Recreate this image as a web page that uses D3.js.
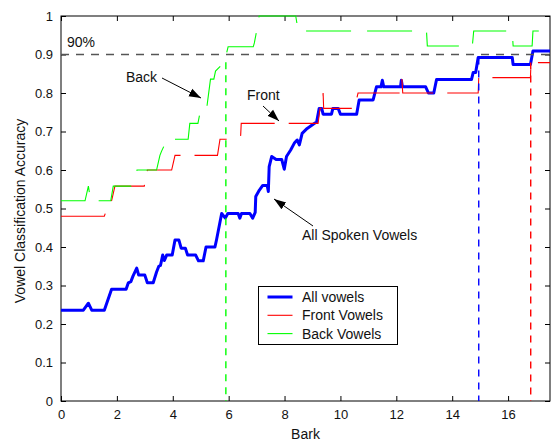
<!DOCTYPE html>
<html>
<head>
<meta charset="utf-8">
<script src="https://cdn.jsdelivr.net/npm/d3@7"></script>
<style>
  body { margin: 0; background: #fff; }
  svg text { font-family: Arial, "Liberation Sans", sans-serif; fill: #111; }
</style>
</head>
<body>
<div id="chart"></div>
<script>
// ---------- data ----------
const xTicks = [0, 2, 4, 6, 8, 10, 12, 14, 16];
const yTicks = [0, 0.1, 0.2, 0.3, 0.4, 0.5, 0.6, 0.7, 0.8, 0.9, 1];

const allVowels = [
    [0, 0.236], [0.80, 0.236], [0.98, 0.254], [1.1, 0.236], [1.55, 0.236], [1.81, 0.29],
    [2.33, 0.29], [2.41, 0.307], [2.5, 0.31], [2.58, 0.325], [2.71, 0.345], [2.78, 0.327],
    [3.0, 0.327], [3.09, 0.307], [3.3, 0.307], [3.42, 0.335], [3.5, 0.35], [3.56, 0.352],
    [3.64, 0.379], [3.7, 0.365], [3.78, 0.379], [3.98, 0.379], [4.08, 0.418], [4.22, 0.418],
    [4.3, 0.397], [4.45, 0.397], [4.53, 0.379], [4.82, 0.379], [4.92, 0.364], [5.09, 0.364],
    [5.19, 0.40], [5.51, 0.40], [5.57, 0.42], [5.75, 0.487], [5.88, 0.475], [5.97, 0.487],
    [6.34, 0.487], [6.4, 0.475], [6.46, 0.487], [6.76, 0.487], [6.86, 0.475], [6.95, 0.49],
    [6.97, 0.531], [7.1, 0.548], [7.22, 0.56], [7.38, 0.56], [7.42, 0.544], [7.45, 0.609],
    [7.54, 0.635], [7.7, 0.627], [7.9, 0.627], [7.99, 0.602], [8.07, 0.635], [8.22, 0.652],
    [8.36, 0.671], [8.45, 0.678], [8.53, 0.665], [8.63, 0.695], [8.81, 0.708], [9.05, 0.72],
    [9.15, 0.725], [9.24, 0.76], [9.33, 0.76], [9.38, 0.745], [9.68, 0.745], [9.73, 0.76],
    [9.92, 0.76], [10.0, 0.745], [10.58, 0.745], [10.67, 0.782], [11.17, 0.782], [11.29, 0.816],
    [11.45, 0.816], [11.5, 0.833], [11.55, 0.816], [12.15, 0.816], [12.18, 0.833], [12.22, 0.816],
    [13.05, 0.816], [13.15, 0.8], [13.34, 0.8], [13.44, 0.835], [14.69, 0.835], [14.75, 0.853],
    [14.84, 0.853], [14.93, 0.892], [16.15, 0.892], [16.18, 0.874], [16.8, 0.874], [16.89, 0.909],
    [17.5, 0.909]
];

const frontVowels = [
    [0, 0.48], [1.55, 0.48], [1.6, 0.49], [1.81, 0.52], [1.93, 0.558], [2.98, 0.558],
    [3.09, 0.6], [3.96, 0.6], [4.08, 0.638], [5.6, 0.638], [5.69, 0.68], [5.98, 0.68],
    [6.43, 0.69], [6.45, 0.721], [9.2, 0.721], [9.27, 0.76], [9.36, 0.76], [9.38, 0.8],
    [9.4, 0.76], [10.5, 0.76], [10.63, 0.8], [12.18, 0.8], [12.2, 0.836], [12.23, 0.8],
    [14.93, 0.8], [14.95, 0.84], [16.8, 0.84], [16.82, 0.879], [17.5, 0.879]
];

const backVowels = [
    [0, 0.52], [0.86, 0.52], [0.98, 0.558], [1.02, 0.54], [1.1, 0.52], [1.78, 0.52],
    [1.87, 0.558], [2.5, 0.558], [2.69, 0.59], [2.72, 0.6], [3.42, 0.6], [3.54, 0.638],
    [3.6, 0.649], [3.8, 0.68], [4.55, 0.68], [4.61, 0.721], [4.9, 0.721], [5.0, 0.758],
    [5.21, 0.758], [5.35, 0.836], [5.47, 0.836], [5.53, 0.857], [5.85, 0.88], [5.98, 0.92],
    [6.88, 0.92], [6.92, 0.93], [7.0, 0.961], [7.09, 1.0], [8.4, 1.0], [8.49, 0.961],
    [13.08, 0.961], [13.11, 0.922], [14.72, 0.922], [14.77, 0.961], [16.15, 0.961],
    [16.18, 0.922], [16.86, 0.922], [16.89, 0.961], [17.5, 0.961]
];

// where each curve reaches 90% -> bark value and the curve's level there
const crossings = [
    { name: 'all', x: 14.95, y: 0.892, color: '#0000ff' },
    { name: 'front', x: 16.81, y: 0.879, color: '#ff0000' },
    { name: 'back', x: 5.9, y: 0.88, color: '#00ff00' }
];
const threshold = 0.9;

const legendLabels = ['All vowels', 'Front Vowels', 'Back Vowels'];
const legendColors = ['#0000ff', '#ff0000', '#00ff00'];

// ---------- layout ----------
const width = 551, height = 441;
const margin = { top: 16, right: 1, bottom: 40, left: 61 };

const svg = d3.select('#chart').append('svg')
    .attr('width', width)
    .attr('height', height);

const x = d3.scaleLinear().domain([0, 17.5]).range([margin.left, width - margin.right]);
const y = d3.scaleLinear().domain([0, 1]).range([height - margin.bottom, margin.top]);

svg.append('defs').append('marker')
    .attr('id', 'arrow')
    .attr('viewBox', '0 0 10 10')
    .attr('refX', 10).attr('refY', 5)
    .attr('markerWidth', 12).attr('markerHeight', 12)
    .attr('markerUnits', 'userSpaceOnUse')
    .attr('orient', 'auto')
    .append('path')
    .attr('d', 'M0,1.5 L10,5 L0,8.5 Z')
    .attr('fill', '#000');

// axes (ticks point inward, box all round)
const xAxis = svg.append('g')
    .attr('transform', `translate(0,${y(0)})`)
    .call(d3.axisBottom(x).tickValues(xTicks).tickSizeInner(-5).tickSizeOuter(0).tickPadding(9));
const xTop = svg.append('g')
    .attr('transform', `translate(0,${y(1)})`)
    .call(d3.axisTop(x).tickValues(xTicks).tickSizeInner(-5).tickSizeOuter(0).tickFormat(''));
const yAxis = svg.append('g')
    .attr('transform', `translate(${x(0)},0)`)
    .call(d3.axisLeft(y).tickValues(yTicks).tickSizeInner(-5).tickSizeOuter(0).tickPadding(8)
        .tickFormat(d => d === 0 || d === 1 ? String(d) : d3.format('.1f')(d)));
const yRight = svg.append('g')
    .attr('transform', `translate(${x(17.5)},0)`)
    .call(d3.axisRight(y).tickValues(yTicks).tickSizeInner(-5).tickSizeOuter(0).tickFormat(''));

[xAxis, xTop, yAxis, yRight].forEach(g => {
    g.select('.domain').remove();
    g.selectAll('line').attr('stroke', '#000');
    g.selectAll('text').style('font-size', '13px').attr('fill', '#111');
});

svg.append('rect')
    .attr('x', x(0)).attr('y', y(1))
    .attr('width', x(17.5) - x(0)).attr('height', y(0) - y(1))
    .attr('fill', 'none').attr('stroke', '#000').attr('stroke-width', 1);

svg.append('text')
    .attr('x', (x(0) + x(17.5)) / 2).attr('y', 439)
    .attr('text-anchor', 'middle').style('font-size', '14px')
    .text('Bark');

svg.append('text')
    .attr('transform', `translate(25,211) rotate(-90)`)
    .attr('text-anchor', 'middle').style('font-size', '14px')
    .text('Vowel Classification Accuracy');

// ---------- lines ----------
const line = d3.line().x(d => x(d[0])).y(d => y(d[1]));

svg.append('path').datum(allVowels)
    .attr('d', line).attr('fill', 'none')
    .attr('stroke', '#0000ff').attr('stroke-width', 3).attr('stroke-linejoin', 'round');

svg.append('path').datum(frontVowels)
    .attr('d', line).attr('fill', 'none')
    .attr('stroke', '#ff0000').attr('stroke-width', 1.1)
    .attr('stroke-dasharray', '46,14');

svg.append('path').datum(backVowels)
    .attr('d', line).attr('fill', 'none')
    .attr('stroke', '#00ff00').attr('stroke-width', 1.1)
    .attr('stroke-dasharray', '45,16');

// 90% reference and crossings
svg.append('line')
    .attr('x1', x(0)).attr('x2', x(17.5))
    .attr('y1', y(threshold)).attr('y2', y(threshold))
    .attr('stroke', '#555').attr('stroke-width', 1.4)
    .attr('stroke-dasharray', '8,7');

svg.selectAll('.cross').data(crossings).enter().append('line')
    .attr('class', 'cross')
    .attr('x1', d => x(d.x)).attr('x2', d => x(d.x))
    .attr('y1', d => y(d.y)).attr('y2', y(0))
    .attr('stroke', d => d.color).attr('stroke-width', 1.4)
    .attr('stroke-dasharray', '7,6');

// ---------- annotations ----------
svg.append('text').attr('x', 67).attr('y', 47).style('font-size', '14px').text('90%');

const notes = [
    { text: 'Back', tx: 126, ty: 82, from: [162, 78], to: [201, 98] },
    { text: 'Front', tx: 247, ty: 100, from: [263, 106], to: [279, 121] },
    { text: 'All Spoken Vowels', tx: 302, ty: 240, from: [313, 226], to: [274, 199] }
];
notes.forEach(n => {
    svg.append('text').attr('x', n.tx).attr('y', n.ty).style('font-size', '14px').text(n.text);
    svg.append('line')
        .attr('x1', n.from[0]).attr('y1', n.from[1])
        .attr('x2', n.to[0]).attr('y2', n.to[1])
        .attr('stroke', '#000').attr('stroke-width', 1)
        .attr('marker-end', 'url(#arrow)');
});

// ---------- legend ----------
const legend = svg.append('g').attr('transform', 'translate(258.5,286.5)');
legend.append('rect')
    .attr('width', 139).attr('height', 58)
    .attr('fill', '#fff').attr('stroke', '#000').attr('stroke-width', 1);
legendLabels.forEach((label, i) => {
    const ly = 10.5 + i * 18.3;
    legend.append('line')
        .attr('x1', 9).attr('x2', 34).attr('y1', ly).attr('y2', ly)
        .attr('stroke', legendColors[i]).attr('stroke-width', i === 0 ? 3 : 1.1);
    legend.append('text')
        .attr('x', 43.5).attr('y', ly + 5)
        .style('font-size', '14px').text(label);
});
</script>
</body>
</html>
